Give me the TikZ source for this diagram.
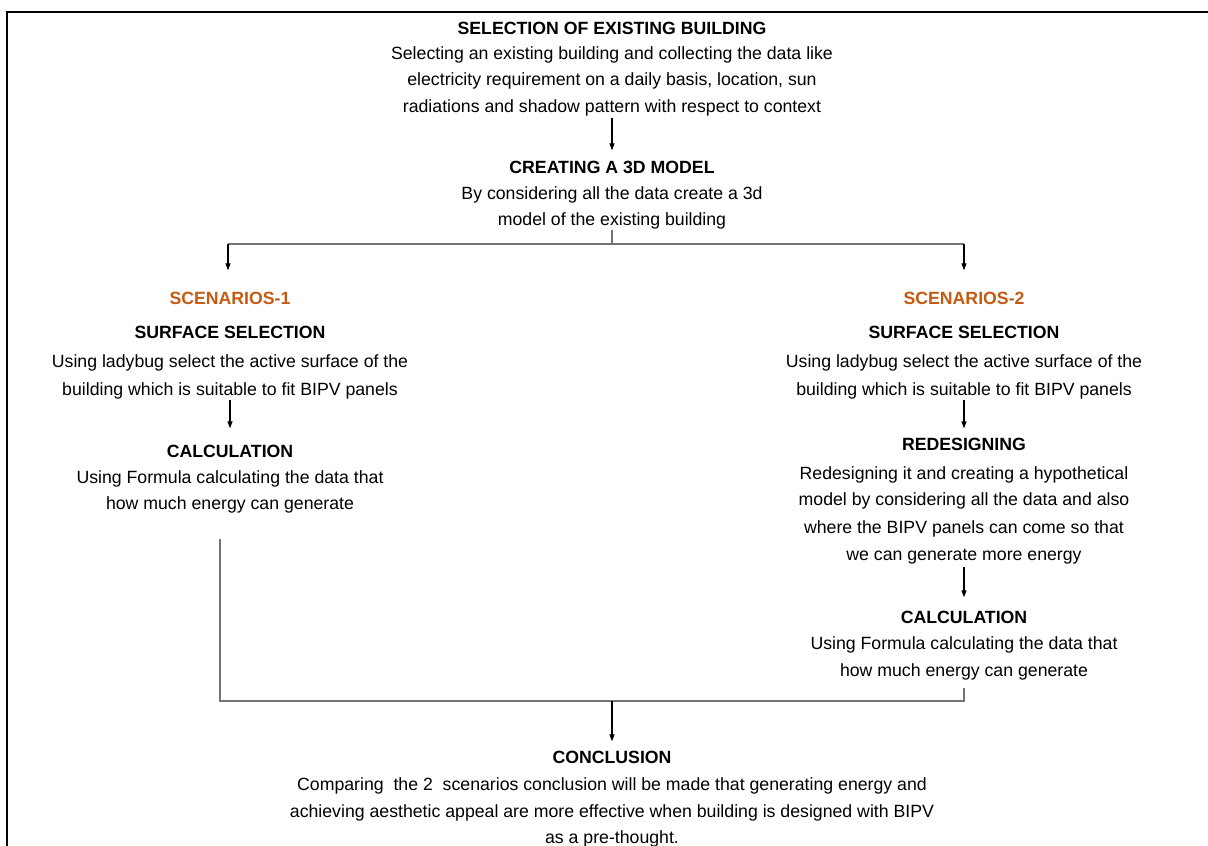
\documentclass[tikz,border=0pt]{standalone}
\usepackage{fontspec}
\setmainfont{Liberation Sans}
\usetikzlibrary{arrows.meta}
\definecolor{orng}{HTML}{C55A11}
\begin{document}
\begin{tikzpicture}[x=1pt,y=-1pt,
  blk/.style={align=center, inner sep=0pt, anchor=north, font=\fontsize{17.7}{26.5}\selectfont},
  scen/.style={inner sep=0pt, anchor=north, text=orng, font=\fontsize{17.7}{26.5}\selectfont\bfseries},
  arr/.style={draw=black, line width=1.2pt, -{Triangle[length=7pt,width=5pt]}},
  conn/.style={draw=black!55, line width=1.3pt},
  frame/.style={draw=black, line width=2pt}]
\useasboundingbox (0,0) rectangle (1208,846);
\draw[frame] (7,846) -- (7,12) -- (1208,12);

\node[blk] (sel) at (612,22.3) {\textbf{SELECTION OF EXISTING BUILDING}\\[-2pt]
Selecting an existing building and collecting the data like\\
electricity requirement on a daily basis, location, sun\\
radiations and shadow pattern with respect to context};

\node[blk] (cre) at (612,161.3) {\textbf{CREATING A 3D MODEL}\\[-1pt]
By considering all the data create a 3d\\
model of the existing building};

\node[scen] (sc1) at (230,292.3) {SCENARIOS-1};
\node[scen] (sc2) at (964,292.3) {SCENARIOS-2};

\node[blk] (ss1) at (230,326.3) {\textbf{SURFACE SELECTION}\\[2pt]
Using ladybug select the active surface of the\\[2pt]
building which is suitable to fit BIPV panels};

\node[blk] (ca1) at (230,445.3) {\textbf{CALCULATION}\\[-1pt]
Using Formula calculating the data that\\
how much energy can generate};

\node[blk] (ss2) at (964,326.3) {\textbf{SURFACE SELECTION}\\[2pt]
Using ladybug select the active surface of the\\[2pt]
building which is suitable to fit BIPV panels};

\node[blk] (red) at (964,438.3) {\textbf{REDESIGNING}\\[2pt]
Redesigning it and creating a hypothetical\\
model by considering all the data and also\\[1pt]
where the BIPV panels can come so that\\[1pt]
we can generate more energy};

\node[blk] (ca2) at (964,611.3) {\textbf{CALCULATION}\\[-1pt]
Using Formula calculating the data that\\[1pt]
how much energy can generate};

\node[blk] (con) at (612,751.3) {\textbf{CONCLUSION}\\[0.5pt]
Comparing\ \ the 2\ \ scenarios conclusion will be made that generating energy and\\
achieving aesthetic appeal are more effective when building is designed with BIPV\\
as a pre-thought.};

\draw[arr, shorten <=2pt, shorten >=11pt] (sel.south) -- (cre.north);

\coordinate (br) at (612,244);
\draw[conn] (cre.south) -- (br);
\draw[conn] (br) -- (228,244);
\draw[conn] (br) -- (964,244);
\draw[arr, shorten >=22pt] (228,244) -- (sc1.north -| 228,0);
\draw[arr, shorten >=22pt] (964,244) -- (sc2.north);

\draw[arr, shorten >=17pt] (ss1.south) -- (ca1.north);
\draw[arr, shorten >=10pt] (ss2.south) -- (red.north);
\draw[arr, shorten <=2pt, shorten >=14pt] (red.south) -- (ca2.north);

\coordinate (l1) at (220,539);
\coordinate (jn) at (612,701);
\draw[conn] (l1) |- (jn);
\draw[conn, shorten <=7pt] (ca2.south) |- (jn);
\draw[arr, shorten >=10pt] (jn) -- (con.north);
\end{tikzpicture}
\end{document}
